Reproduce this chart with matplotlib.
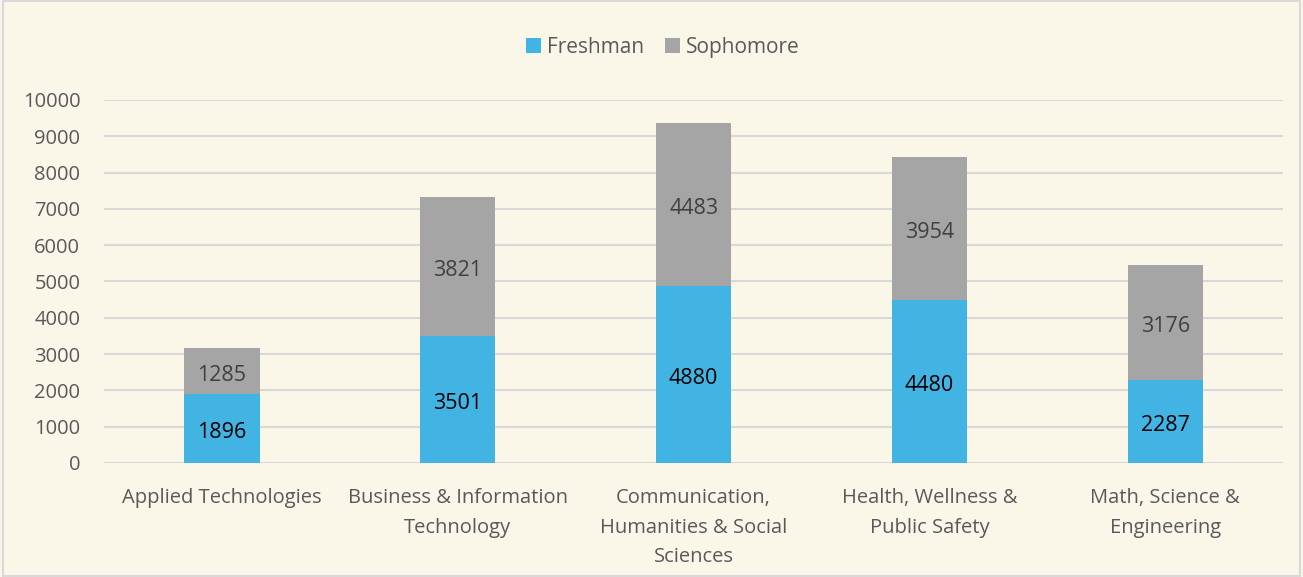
import numpy as np
import matplotlib.pyplot as plt
from matplotlib.patches import Rectangle

categories = ["Applied Technologies", "Business & Information\nTechnology",
              "Communication,\nHumanities & Social\nSciences",
              "Health, Wellness &\nPublic Safety", "Math, Science &\nEngineering"]
freshman = [1896, 3501, 4880, 4480, 2287]
sophomore = [1285, 3821, 4483, 3954, 3176]

BG = "#FAF6E8"
BLUE = "#42B4E4"
GRAY = "#A5A5A5"

plt.rcParams['font.family'] = ['Open Sans', 'DejaVu Sans']

fig = plt.figure(figsize=(13.03, 5.77), dpi=100, facecolor=BG)
fig.patches.append(Rectangle((0.002, 0.002), 0.996, 0.996, transform=fig.transFigure,
                             fill=False, edgecolor="#D9D9D9", linewidth=1.5))
ax = fig.add_axes([0.0798, 0.1976, 0.905, 0.6291], facecolor=BG)

x = np.arange(len(categories))
w = 0.32
b1 = ax.bar(x, freshman, w, color=BLUE, label="Freshman", zorder=3)
b2 = ax.bar(x, sophomore, w, bottom=freshman, color=GRAY, label="Sophomore", zorder=3)

# data labels, nudged down a little like the original
for rect, v in zip(b1, freshman):
    ax.annotate(str(v), (rect.get_x() + w / 2, v / 2), xytext=(0, -3),
                textcoords="offset points", ha="center", va="center",
                fontsize=15.5, color="black", zorder=4)
for rect, f, v in zip(b2, freshman, sophomore):
    ax.annotate(str(v), (rect.get_x() + w / 2, f + v / 2), xytext=(0, -3),
                textcoords="offset points", ha="center", va="center",
                fontsize=15.5, color="#404040", zorder=4)

ax.set_xlim(-0.5, 4.5)
ax.set_ylim(0, 10000)
ax.set_yticks(np.arange(0, 10001, 1000))
ax.yaxis.grid(True, color="#D9D9D9", linewidth=1.5, zorder=0)
ax.set_axisbelow(True)
for s in ax.spines.values():
    s.set_visible(False)
ax.tick_params(axis="both", length=0, labelsize=14.5, labelcolor="#595959")
ax.tick_params(axis="y", pad=17)
ax.set_xticks(x)
ax.set_xticklabels(categories, linespacing=1.65)
ax.tick_params(axis="x", pad=18)

ax.legend(loc="center", bbox_to_anchor=(0.474, 1.145), ncol=2, frameon=False,
          fontsize=15, handlelength=0.7, handleheight=0.7, columnspacing=1.0,
          handletextpad=0.3, labelcolor="#595959")

fig.savefig("out.png", dpi=100, facecolor=BG)
